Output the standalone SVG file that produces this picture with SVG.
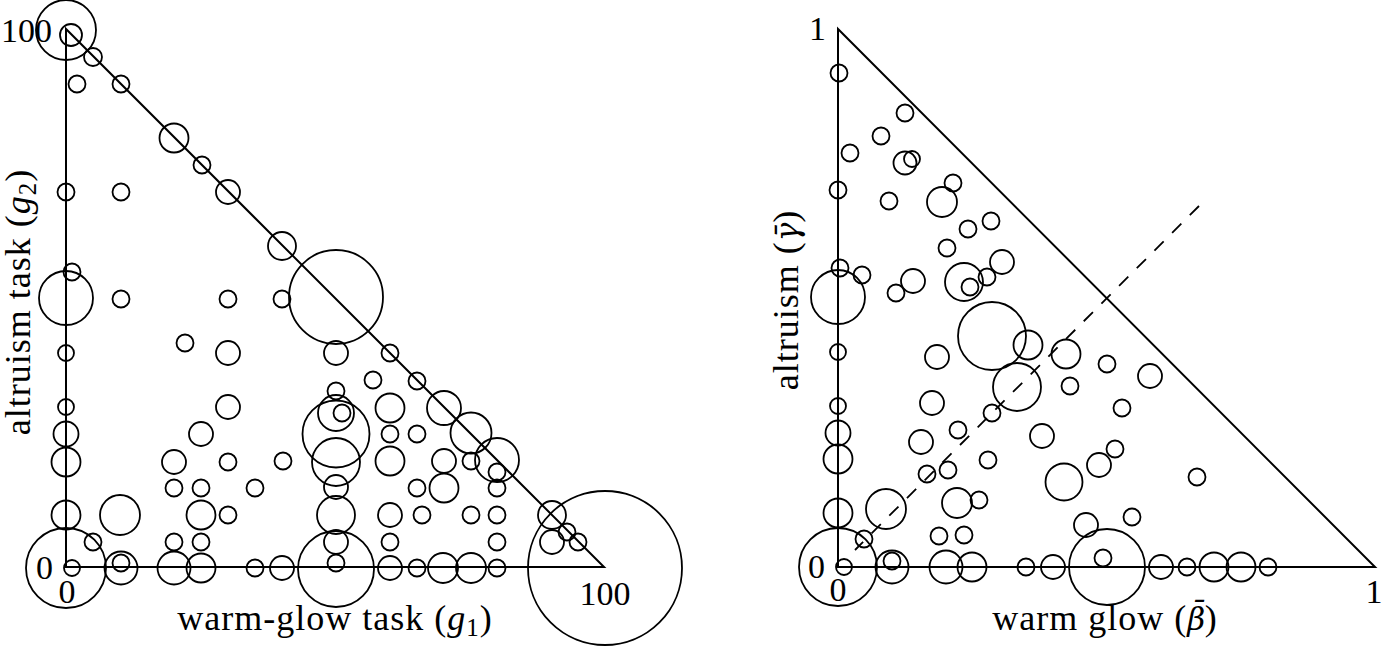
<svg xmlns="http://www.w3.org/2000/svg" width="1382" height="647" viewBox="0 0 1382 647">
<style>
.ax{fill:none;stroke:#000;stroke-width:2;stroke-linejoin:miter}
.dash{fill:none;stroke:#000;stroke-width:1.8;stroke-dasharray:13 12}
circle{fill:none;stroke:#000;stroke-width:1.8}
text{font-family:"Liberation Serif","DejaVu Serif",serif;fill:#000}
.tk{font-size:34px}
.lb{font-size:36px;letter-spacing:1px}
.it{font-style:italic}
.gk{font-family:"DejaVu Serif",serif;font-style:italic;font-size:31px;letter-spacing:0}
</style>
<rect width="1382" height="647" fill="#fff"/>
<g id="left-plot">
<path class="ax" d="M66,29 L66,567 L604,567 Z"/>
<g id="left-points">
<circle cx="66" cy="30" r="30"/><circle cx="71" cy="35" r="11"/><circle cx="93" cy="57" r="9"/>
<circle cx="77" cy="84" r="8.5"/><circle cx="121" cy="84" r="8.5"/><circle cx="174" cy="138" r="14.5"/>
<circle cx="202" cy="165" r="8.5"/><circle cx="228" cy="192" r="12"/><circle cx="66" cy="192" r="8.5"/>
<circle cx="121" cy="192" r="8.5"/><circle cx="282" cy="246" r="14"/><circle cx="336" cy="297" r="47"/>
<circle cx="72" cy="272" r="8.5"/><circle cx="66" cy="298" r="27"/><circle cx="121" cy="299" r="8.5"/>
<circle cx="228" cy="299" r="8.5"/><circle cx="282" cy="299" r="8.5"/><circle cx="185" cy="343" r="8.5"/>
<circle cx="228" cy="353" r="12"/><circle cx="336" cy="353" r="12"/><circle cx="390" cy="353" r="8.5"/>
<circle cx="66" cy="353" r="8"/><circle cx="373" cy="380" r="8.5"/><circle cx="417" cy="381" r="8.5"/>
<circle cx="228" cy="407" r="12"/><circle cx="66" cy="407" r="8"/><circle cx="336" cy="391" r="8.5"/>
<circle cx="336" cy="413" r="18"/><circle cx="342" cy="413" r="8.5"/><circle cx="336" cy="434" r="33.5"/>
<circle cx="336" cy="462" r="24"/><circle cx="336" cy="487" r="12"/><circle cx="390" cy="408" r="14.5"/>
<circle cx="390" cy="434" r="8.5"/><circle cx="417" cy="434" r="8.5"/><circle cx="444" cy="408" r="17"/>
<circle cx="471" cy="433" r="20.5"/><circle cx="497" cy="460" r="22"/><circle cx="497" cy="472" r="8.5"/>
<circle cx="471" cy="461" r="8.5"/><circle cx="444" cy="461" r="12"/><circle cx="390" cy="461" r="14.5"/>
<circle cx="417" cy="488" r="8.5"/><circle cx="444" cy="488" r="14.5"/><circle cx="497" cy="488" r="8.5"/>
<circle cx="283" cy="461" r="8.5"/><circle cx="201" cy="434" r="12"/><circle cx="66" cy="434" r="12.5"/>
<circle cx="66" cy="462" r="14.5"/><circle cx="174" cy="462" r="12"/><circle cx="228" cy="462" r="8.5"/>
<circle cx="174" cy="488" r="8.5"/><circle cx="201" cy="488" r="8.5"/><circle cx="255" cy="488" r="8.5"/>
<circle cx="66" cy="515" r="14.5"/><circle cx="120" cy="515" r="20"/><circle cx="201" cy="515" r="14.5"/>
<circle cx="228" cy="515" r="8.5"/><circle cx="336" cy="515" r="19"/><circle cx="390" cy="515" r="12"/>
<circle cx="422" cy="515" r="8.5"/><circle cx="471" cy="515" r="8.5"/><circle cx="497" cy="515" r="8.5"/>
<circle cx="552" cy="515" r="14"/><circle cx="93" cy="542" r="8.5"/><circle cx="174" cy="542" r="8.5"/>
<circle cx="201" cy="542" r="8.5"/><circle cx="336" cy="542" r="12"/><circle cx="390" cy="542" r="8.5"/>
<circle cx="497" cy="542" r="8.5"/><circle cx="552" cy="542" r="12"/><circle cx="567" cy="532" r="8.5"/>
<circle cx="578" cy="542" r="8.5"/><circle cx="66" cy="568" r="40"/><circle cx="72" cy="568" r="8"/>
<circle cx="121" cy="568" r="16.5"/><circle cx="121" cy="563" r="8.5"/><circle cx="174" cy="568" r="16.5"/>
<circle cx="201" cy="568" r="14.5"/><circle cx="255" cy="568" r="8.5"/><circle cx="282" cy="568" r="12"/>
<circle cx="336" cy="569" r="38"/><circle cx="336" cy="563" r="8.5"/><circle cx="390" cy="568" r="12"/>
<circle cx="417" cy="568" r="8.5"/><circle cx="443" cy="568" r="15"/><circle cx="471" cy="568" r="15"/>
<circle cx="497" cy="568" r="8.5"/><circle cx="605" cy="568" r="77"/>
</g>
<g id="left-labels">
<text class="tk" x="52" y="42" text-anchor="end">100</text>
<text class="tk" x="53" y="579" text-anchor="end">0</text>
<text class="tk" x="67" y="603" text-anchor="middle">0</text>
<text class="tk" x="605" y="605" text-anchor="middle">100</text>
<text class="lb" x="335" y="630" text-anchor="middle">warm-glow task (<tspan class="it">g</tspan><tspan font-size="25" dy="6">1</tspan><tspan dy="-6">)</tspan></text>
<text class="lb" transform="translate(30,302) rotate(-90)" text-anchor="middle">altruism task (<tspan class="it">g</tspan><tspan font-size="25" dy="6">2</tspan><tspan dy="-6">)</tspan></text>
</g>
</g>
<g id="right-plot">
<path class="ax" d="M838,29 L838,567 L1375,567 Z"/>
<g id="connectors">
<line class="dash" x1="1199" y1="206" x2="855" y2="550"/>
</g>
<g id="right-points">
<circle cx="839" cy="73" r="8.5"/><circle cx="905" cy="113" r="8.5"/><circle cx="881" cy="136" r="8.5"/>
<circle cx="850" cy="153" r="8.5"/><circle cx="905" cy="163" r="11.5"/><circle cx="912" cy="159" r="8"/>
<circle cx="838" cy="190" r="8.5"/><circle cx="953" cy="183" r="8.5"/><circle cx="889" cy="201" r="8.5"/>
<circle cx="942" cy="202" r="15"/><circle cx="991" cy="221" r="8.5"/><circle cx="968" cy="229" r="8.5"/>
<circle cx="947" cy="248" r="8.5"/><circle cx="840" cy="268" r="8.5"/><circle cx="862" cy="275" r="8.5"/>
<circle cx="913" cy="281" r="12"/><circle cx="896" cy="293" r="8.5"/><circle cx="1002" cy="262" r="12"/>
<circle cx="964" cy="282" r="19"/><circle cx="987" cy="277" r="8.5"/><circle cx="970" cy="287" r="8.5"/>
<circle cx="838" cy="297" r="27"/><circle cx="992" cy="336" r="34"/><circle cx="1028" cy="345" r="14.5"/>
<circle cx="1066" cy="354" r="14.5"/><circle cx="838" cy="352" r="8"/><circle cx="937" cy="357" r="12"/>
<circle cx="1107" cy="364" r="8.5"/><circle cx="1150" cy="376" r="12"/><circle cx="1017" cy="387" r="24"/>
<circle cx="1070" cy="386" r="8.5"/><circle cx="932" cy="403" r="12"/><circle cx="838" cy="406" r="8"/>
<circle cx="992" cy="413" r="8.5"/><circle cx="1122" cy="408" r="8.5"/><circle cx="958" cy="430" r="8.5"/>
<circle cx="1042" cy="436" r="12"/><circle cx="921" cy="442" r="12"/><circle cx="838" cy="433" r="12.5"/>
<circle cx="838" cy="459" r="14.5"/><circle cx="988" cy="460" r="8.5"/><circle cx="948" cy="470" r="8.5"/>
<circle cx="927" cy="474" r="8.5"/><circle cx="1115" cy="449" r="8.5"/><circle cx="1099" cy="465" r="12"/>
<circle cx="1064" cy="482" r="18.5"/><circle cx="1197" cy="477" r="8.5"/><circle cx="957" cy="503" r="15"/>
<circle cx="979" cy="500" r="8.5"/><circle cx="838" cy="513" r="14.5"/><circle cx="886" cy="509" r="20"/>
<circle cx="864" cy="539" r="8.5"/><circle cx="939" cy="536" r="8.5"/><circle cx="964" cy="535" r="8.5"/>
<circle cx="1086" cy="525" r="12"/><circle cx="1132" cy="517" r="8.5"/><circle cx="838" cy="567" r="39"/>
<circle cx="844" cy="567" r="8"/><circle cx="892" cy="567" r="16.5"/><circle cx="892" cy="561" r="8.5"/>
<circle cx="946" cy="567" r="16.5"/><circle cx="972" cy="567" r="14.5"/><circle cx="1026" cy="567" r="8.5"/>
<circle cx="1053" cy="567" r="12"/><circle cx="1107" cy="567" r="38"/><circle cx="1103" cy="558" r="8.5"/>
<circle cx="1161" cy="567" r="12"/><circle cx="1187" cy="567" r="8.5"/><circle cx="1214" cy="567" r="14.5"/>
<circle cx="1241" cy="567" r="14.5"/><circle cx="1268" cy="567" r="8.5"/>
</g>
<g id="right-labels">
<text class="tk" x="826" y="40" text-anchor="end">1</text>
<text class="tk" x="825" y="578" text-anchor="end">0</text>
<text class="tk" x="838" y="601" text-anchor="middle">0</text>
<text class="tk" x="1374" y="603" text-anchor="middle">1</text>
<text class="lb" x="1105" y="630" text-anchor="middle">warm glow (<tspan class="gk">β</tspan><tspan class="gk" dx="-16" dy="-7">¯</tspan><tspan dy="7">)</tspan></text>
<text class="lb" transform="translate(798,300) rotate(-90)" text-anchor="middle">altruism (<tspan class="gk">γ̄</tspan>)</text>
</g>
</g>
</svg>
